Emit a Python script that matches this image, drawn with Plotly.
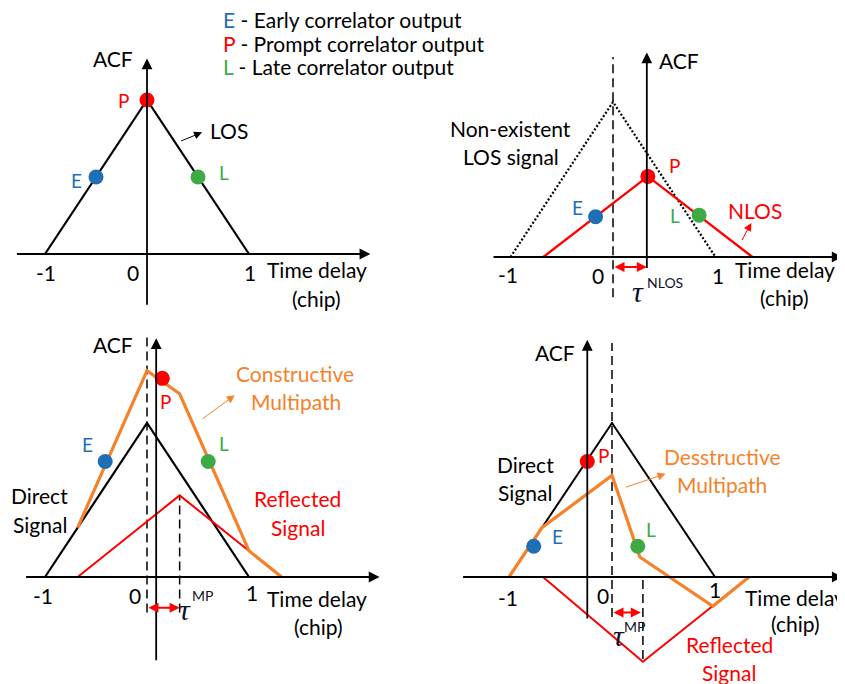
import plotly.graph_objects as go

# ---- values (time delay in chips, ACF normalised to LOS peak) ----
direct_t = [-1, 0, 1]
direct_acf = [0, 1, 0]

# top-right: NLOS only
nlos_t = [-0.68, 0.34, 1.36]
nlos_acf = [0, 0.52, 0]
tau_nlos = 0.33

# bottom-left: constructive multipath
refl_c_t = [-0.68, 0.32, 1.32]
refl_c_acf = [0, 0.53, 0]
cons_t = [-0.68, 0, 0.32, 1, 1.32]
cons_acf = [0.32, 1.34, 1.19, 0.17, 0]
tau_mp_c = 0.32

# bottom-right: destructive multipath
refl_d_t = [-0.67, 0.3, 1.33]
refl_d_acf = [0, -0.55, 0]
dest_t = [-1, -0.68, 0, 0.27, 0.98, 1.33]
dest_acf = [0, 0.32, 0.66, 0.13, -0.19, 0]
tau_mp_d = 0.28

# early / prompt / late correlator outputs per panel
corr_t = [[-0.5, 0, 0.5], [-0.17, 0.34, 0.84], [-0.41, 0.15, 0.6], [-0.76, -0.24, 0.25]]
corr_acf = [[0.5, 1, 0.5], [0.26, 0.52, 0.27], [0.75, 1.29, 0.75], [0.2, 0.75, 0.2]]
corr_names = ["E", "P", "L"]
tick_labels = ["-1", "0", "1"]

BLUE = "#1f6fb5"
RED = "#ff0000"
GREEN = "#3daa45"
ORANGE = "#f5822a"
FONT = "Lato"
FS = 21
corr_colors = [BLUE, RED, GREEN]

# the page puts the figure 8 px in from the top-left corner
OFF = 8
W, H = 845 - OFF, 684 - OFF
# pixel calibration of each panel: origin x, px per chip, baseline y, px per ACF unit
panels = [(147, 102, 254, 154), (613, 102.5, 257, 155), (147, 102, 577, 154), (612, 103, 577, 154)]

fig = go.Figure()
layout = dict(width=W, height=H, margin=dict(l=0, r=0, t=0, b=0),
              paper_bgcolor="white", plot_bgcolor="rgba(0,0,0,0)", showlegend=False)
for i, (x0, u, yb, v) in enumerate(panels):
    x0, yb = x0 - OFF, yb - OFF
    s = "" if i == 0 else str(i + 1)
    layout["xaxis" + s] = dict(domain=[0, 1], range=[-x0 / u, (W - x0) / u], visible=False,
                               fixedrange=True, anchor="y" + s)
    layout["yaxis" + s] = dict(domain=[0, 1], range=[(yb - H) / v, yb / v], visible=False,
                               fixedrange=True, anchor="x" + s)
fig.update_layout(**layout)

ann = []


def ax_ids(p):
    return ("x", "y") if p == 0 else ("x%d" % (p + 1), "y%d" % (p + 1))


def line(p, t, a, color="black", width=2, dash="solid"):
    xa, ya = ax_ids(p)
    fig.add_trace(go.Scatter(x=t, y=a, mode="lines", xaxis=xa, yaxis=ya, hoverinfo="skip",
                             line=dict(color=color, width=width, dash=dash)))


def arrow(p, t0, a0, t1, a1, color="black", width=1.6, size=1.25, both=False):
    xa, ya = ax_ids(p)
    ann.append(dict(x=t1, y=a1, ax=t0, ay=a0, xref=xa, yref=ya, axref=xa, ayref=ya, text="",
                    showarrow=True, arrowhead=2, arrowsize=size, arrowwidth=width, arrowcolor=color,
                    arrowside="end+start" if both else "end", standoff=0, startstandoff=0))


def text(p, t, a, s, color="black", size=FS, anchor="center", family=FONT):
    xa, ya = ax_ids(p)
    ann.append(dict(x=t, y=a, xref=xa, yref=ya, text=s, showarrow=False, xanchor=anchor,
                    yanchor="middle", font=dict(family=family, size=size, color=color)))


def tau(p, t, a, sup, t_sup, a_sup):
    text(p, t, a, "<i>τ</i>", color="#10102a", size=30, family="Liberation Serif")
    text(p, t_sup, a_sup, sup, color="#10102a", size=14, anchor="left")


# axes of the four panels (x tail/head, y tail/head, y-axis position)
axes = [(-1.29, 2.19, -0.34, 1.27, 0), (-1.18, 2.24, -0.08, 1.32, 0.33),
        (-1.2, 2.28, -0.55, 1.55, 0.09), (-1.46, 2.24, -0.28, 1.54, -0.24)]
for p, (xt0, xt1, ya0, ya1, yx) in enumerate(axes):
    arrow(p, xt0, 0, xt1, 0, width=1.8, size=1.2)
    arrow(p, yx, ya0, yx, ya1, width=1.8, size=1.2)

# tick labels and axis titles
tick_pos = [[(-0.99, -0.12), (-0.14, -0.12), (1.01, -0.12)],
            [(-1.02, -0.11), (-0.15, -0.12), (1.02, -0.12)],
            [(-1.02, -0.12), (-0.12, -0.12), (1.03, -0.10)],
            [(-1.01, -0.13), (-0.09, -0.12), (1.0, -0.08)]]
title_pos = [((1.16, -0.10), (1.66, -0.29), (-0.33, 1.27)),
             ((1.17, -0.08), (1.67, -0.26), (0.64, 1.27)),
             ((1.16, -0.14), (1.68, -0.32), (-0.33, 1.51)),
             ((1.27, -0.13), (1.78, -0.30), (-0.55, 1.46))]
for p in range(4):
    for lab, (t, a) in zip(tick_labels, tick_pos[p]):
        text(p, t, a, lab)
    (td, ch, acf) = title_pos[p]
    text(p, td[0], td[1], "Time delay", anchor="left")
    text(p, ch[0], ch[1], "(chip)")
    text(p, acf[0], acf[1], "ACF")

# panel 1: LOS
line(0, direct_t, direct_acf, width=2.2)
arrow(0, 0.32, 0.73, 0.54, 0.79, width=1, size=1.6)
text(0, 0.6, 0.8, "LOS", anchor="left")

# panel 2: NLOS
line(1, [0, 0], [-0.26, 1.29], width=1.5, dash="9px,5px")
line(1, direct_t, direct_acf, width=2.2, dash="2px,2px")
line(1, nlos_t, nlos_acf, color=RED, width=2.4)
arrow(1, 1.25, 0.10, 1.35, 0.22, color=RED, width=1, size=1.6)
arrow(1, 0, -0.065, tau_nlos, -0.065, color=RED, width=2, size=1, both=True)
tau(1, 0.24, -0.22, "NLOS", 0.31, -0.165)
text(1, -1.0, 0.83, "Non-existent")
text(1, -1.0, 0.65, "LOS signal")
text(1, 1.39, 0.30, "NLOS", color=RED)

# panel 3: constructive multipath
line(2, [0, 0], [-0.23, 1.57], width=1.5, dash="9px,5px")
line(2, [tau_mp_c, tau_mp_c], [-0.23, 0.53], width=1.5, dash="9px,5px")
line(2, direct_t, direct_acf, width=2.2)
line(2, refl_c_t, refl_c_acf, color=RED, width=2)
line(2, cons_t, cons_acf, color=ORANGE, width=3.2)
arrow(2, 0.53, 1.02, 0.86, 1.18, color=ORANGE, width=1, size=1.6)
arrow(2, 0, -0.2, tau_mp_c, -0.2, color=RED, width=2, size=1, both=True)
tau(2, 0.37, -0.21, "MP", 0.42, -0.12)
text(2, 1.45, 1.32, "Constructive", color=ORANGE)
text(2, 1.46, 1.14, "Multipath", color=ORANGE)
text(2, -1.05, 0.53, "Direct")
text(2, -1.05, 0.34, "Signal")
text(2, 1.48, 0.51, "Reflected", color=RED)
text(2, 1.48, 0.32, "Signal", color=RED)

# panel 4: destructive multipath
line(3, [0, 0], [-0.26, 1.52], width=1.5, dash="9px,5px")
line(3, [tau_mp_d + 0.02, tau_mp_d + 0.02], [-0.02, -0.55], width=1.5, dash="9px,5px")
line(3, direct_t, direct_acf, width=2)
line(3, refl_d_t, refl_d_acf, color=RED, width=2)
line(3, dest_t, dest_acf, color=ORANGE, width=3.2)
arrow(3, 0.12, 0.58, 0.52, 0.67, color=ORANGE, width=1, size=1.6)
arrow(3, 0, -0.23, tau_mp_d, -0.23, color=RED, width=2, size=1, both=True)
tau(3, 0.07, -0.38, "MP", 0.1, -0.32)
text(3, 1.07, 0.78, "Desstructive", color=ORANGE)
text(3, 1.07, 0.60, "Multipath", color=ORANGE)
text(3, -0.84, 0.73, "Direct")
text(3, -0.84, 0.55, "Signal")
text(3, 1.14, -0.44, "Reflected", color=RED)
text(3, 1.14, -0.62, "Signal", color=RED)

# correlator markers and their letters
label_pos = [[(-0.69, 0.48), (-0.235, 1.0), (0.75, 0.53)],
             [(-0.35, 0.32), (0.6, 0.59), (0.6, 0.27)],
             [(-0.58, 0.86), (0.18, 1.14), (0.75, 0.87)],
             [(-0.53, 0.26), (-0.08, 0.79), (0.38, 0.31)]]
for p in range(4):
    xa, ya = ax_ids(p)
    fig.add_trace(go.Scatter(x=corr_t[p], y=corr_acf[p], mode="markers", xaxis=xa, yaxis=ya,
                             hoverinfo="skip", marker=dict(size=15, color=corr_colors, line=dict(width=0))))
    for name, col, (t, a) in zip(corr_names, corr_colors, label_pos[p]):
        text(p, t, a, name, color=col, size=19)

# key at the top
key = ["Early correlator output", "Prompt correlator output", "Late correlator output"]
for k, (name, col, desc) in enumerate(zip(corr_names, corr_colors, key)):
    ann.append(dict(x=(221 - OFF) / W, y=1 - (20 + 23.4 * k - OFF) / H, xref="paper", yref="paper",
                    xanchor="left", yanchor="middle", showarrow=False,
                    text="<span style='color:%s'>%s</span> - %s" % (col, name, desc),
                    font=dict(family=FONT, size=FS, color="black")))

fig.update_layout(annotations=ann)
fig.write_html("out.html")
